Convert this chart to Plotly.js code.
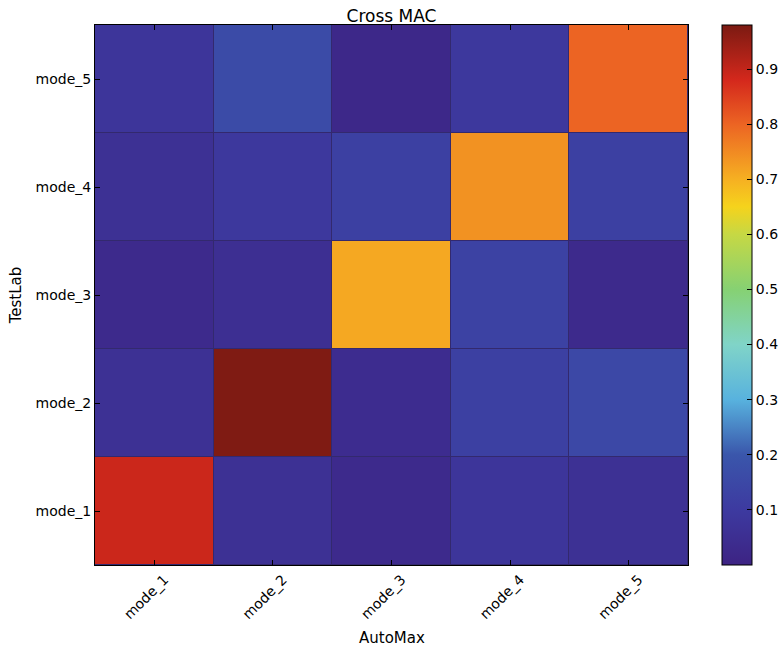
<!DOCTYPE html>
<html>
<head>
<meta charset="utf-8">
<script src="https://cdn.plot.ly/plotly-3.0.1.min.js"></script>
<style>html,body{margin:0;padding:0;background:#fff;}#chart{width:782px;height:650px;}</style>
</head>
<body>
<div id="chart"></div>
<script>
// Data
const xLabels = ['mode_1', 'mode_2', 'mode_3', 'mode_4', 'mode_5']; // AutoMax
const yLabels = ['mode_1', 'mode_2', 'mode_3', 'mode_4', 'mode_5']; // TestLab
const row_mode_1 = [0.89, 0.06, 0.03, 0.08, 0.06];
const row_mode_2 = [0.06, 0.975, 0.04, 0.12, 0.15];
const row_mode_3 = [0.03, 0.05, 0.71, 0.13, 0.03];
const row_mode_4 = [0.06, 0.09, 0.12, 0.74, 0.12];
const row_mode_5 = [0.08, 0.16, 0.02, 0.09, 0.80];
const colorTicks = [0.1, 0.2, 0.3, 0.4, 0.5, 0.6, 0.7, 0.8, 0.9];

const zMin = 0.0, zMax = 0.98;
const stops = [
  [0.00, '#3d2383'], [0.10, '#3d3aa0'], [0.20, '#3a56ab'], [0.30, '#58b2de'],
  [0.40, '#80d4c8'], [0.50, '#86d173'], [0.60, '#c6d844'], [0.65, '#f5d31c'],
  [0.70, '#f6b022'], [0.80, '#ec6423'], [0.88, '#d4281c'], [0.98, '#7b1a12']
];
const colorscale = stops.map(s => [Math.min(1, (s[0] - zMin) / (zMax - zMin)), s[1]]);

const trace = {
  type: 'heatmap',
  x: xLabels,
  y: yLabels,
  z: [row_mode_1, row_mode_2, row_mode_3, row_mode_4, row_mode_5],
  zmin: zMin, zmax: zMax,
  colorscale: colorscale,
  xgap: 1, ygap: 1,
  colorbar: {
    x: 722 / 782, xanchor: 'left', xref: 'container',
    y: 0.5, yanchor: 'middle', yref: 'paper', len: 1, lenmode: 'fraction',
    xpad: 0, ypad: 0,
    thickness: 30, outlinewidth: 1, outlinecolor: '#000',
    tickvals: colorTicks, ticktext: colorTicks.map(v => v.toFixed(1)),
    ticks: 'inside', ticklen: 5, tickcolor: '#000',
    tickfont: {family: 'DejaVu Sans', size: 14, color: '#000'}
  }
};

const layout = {
  width: 782, height: 650,
  margin: {l: 95, r: 94, t: 25, b: 85},
  paper_bgcolor: '#fff',
  plot_bgcolor: '#33296e',
  title: {text: 'Cross MAC', x: 0.5, xref: 'paper', y: 1, yref: 'paper', yanchor: 'bottom', pad: {b: 3},
          font: {family: 'DejaVu Sans', size: 17, color: '#000'}},
  font: {family: 'DejaVu Sans', color: '#000'},
  annotations: [{
    text: 'AutoMax', xref: 'paper', yref: 'paper', x: 0.5, y: 0,
    xanchor: 'center', yanchor: 'top', yshift: -62, showarrow: false,
    font: {family: 'DejaVu Sans', size: 15, color: '#000'}
  }],
  xaxis: {
    tickangle: -45, tickfont: {family: 'DejaVu Sans', size: 14},
    ticklabelshift: 10, ticklabelstandoff: 0, automargin: false,
    showline: true, linecolor: '#000', linewidth: 1, mirror: 'ticks',
    ticks: 'inside', ticklen: 5, tickcolor: '#000', showgrid: false, zeroline: false
  },
  yaxis: {
    title: {text: 'TestLab', font: {family: 'DejaVu Sans', size: 15}, standoff: 10},
    tickfont: {family: 'DejaVu Sans', size: 14},
    showline: true, linecolor: '#000', linewidth: 1, mirror: 'ticks',
    ticks: 'inside', ticklen: 5, tickcolor: '#000', showgrid: false, zeroline: false
  }
};

Plotly.newPlot('chart', [trace], layout, {displayModeBar: false, staticPlot: true});
</script>
</body>
</html>
